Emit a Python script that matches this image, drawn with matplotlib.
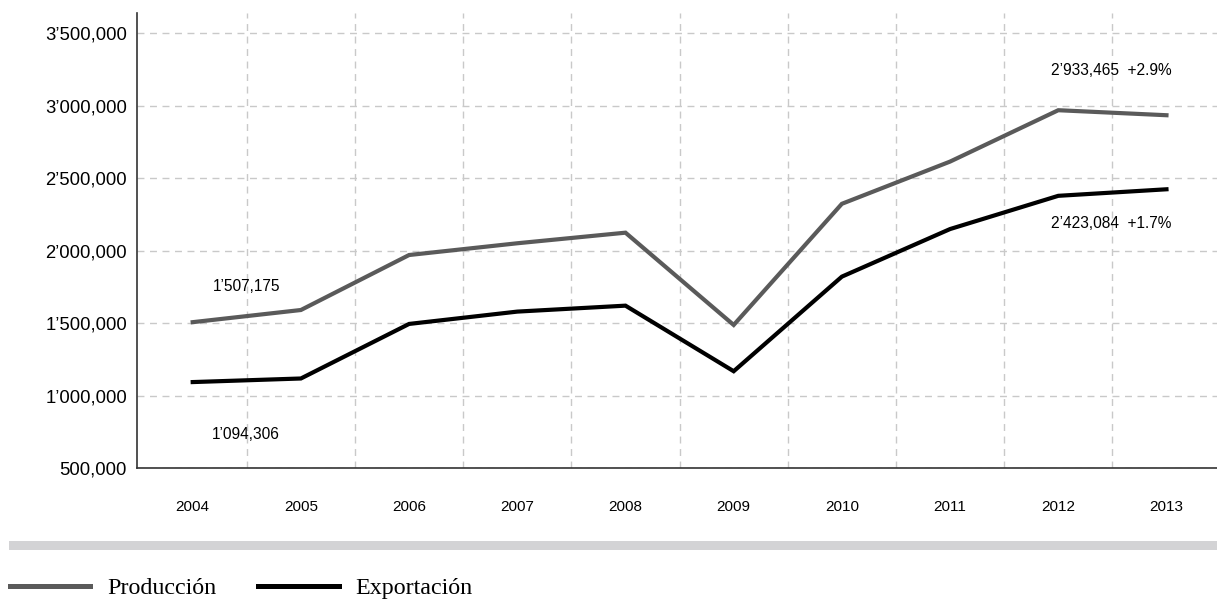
import matplotlib
matplotlib.use("Agg")
import matplotlib.pyplot as plt
from matplotlib.patches import Rectangle
from matplotlib.ticker import FuncFormatter, FixedLocator


years = ["2004", "2005", "2006", "2007", "2008", "2009", "2010", "2011", "2012", "2013"]
produccion = [1507175, 1591000, 1970000, 2051000, 2124000, 1488000, 2323000, 2614000, 2968000, 2933465]
exportacion = [1094306, 1119000, 1495000, 1580000, 1621000, 1169000, 1821000, 2149000, 2378000, 2423084]
growth_prod = "+2.9%"
growth_exp = "+1.7%"

GRAY = "#5a5a5a"
GRID = "#c9c9c9"


def fmt(v, pos=None):
    s = f"{int(round(v)):,}"
    if v >= 1e6:
        s = s.replace(",", "\u2019", 1)
    return s


plt.rcParams["font.family"] = ["Liberation Sans", "DejaVu Sans"]

fig = plt.figure(figsize=(12.17, 6.01), dpi=100)
ax = fig.add_axes([137.3 / 1217, 1 - 468.3 / 601, 1 - 137.3 / 1217, (468.3 - 13.3) / 601])

x = list(range(len(years)))
l_prod, = ax.plot(x, produccion, color=GRAY, lw=3.0, solid_joinstyle="miter", zorder=3)
l_exp, = ax.plot(x, exportacion, color="black", lw=3.0, solid_joinstyle="miter", zorder=3)

ax.set_xlim(-0.512, 9.467)
ax.set_ylim(500000, 3636000)

ax.set_xticks(x)
ax.set_xticklabels(years, fontsize=11)
ax.xaxis.set_minor_locator(FixedLocator([i + 0.5 for i in range(9)]))
ax.set_yticks([500000, 1000000, 1500000, 2000000, 2500000, 3000000, 3500000])
ax.yaxis.set_major_formatter(FuncFormatter(fmt))
ax.tick_params(axis="y", length=0, pad=7.5, labelsize=13.3)
ax.tick_params(axis="x", which="both", length=0, pad=23)

ax.grid(axis="y", which="major", color=GRID, lw=1, ls=(0, (5, 4)))
ax.grid(axis="x", which="minor", color=GRID, lw=1, ls=(0, (5, 4)))
ax.set_axisbelow(True)

for side in ["top", "right"]:
    ax.spines[side].set_visible(False)
for side in ["left", "bottom"]:
    ax.spines[side].set_color("#333333")
    ax.spines[side].set_linewidth(1.2)

# start / end value labels
ax.annotate(fmt(produccion[0]), xy=(0, produccion[0]), xytext=(38.5, 25.5),
            textcoords="offset points", ha="center", va="center", fontsize=11.2)
ax.annotate(fmt(exportacion[0]), xy=(0, exportacion[0]), xytext=(38.5, -37.5),
            textcoords="offset points", ha="center", va="center", fontsize=11.2)
ax.annotate(f"{fmt(produccion[-1])}  {growth_prod}", xy=(9, produccion[-1]), xytext=(-40, 32),
            textcoords="offset points", ha="center", va="center", fontsize=11.2)
ax.annotate(f"{fmt(exportacion[-1])}  {growth_exp}", xy=(9, exportacion[-1]), xytext=(-40, -24.8),
            textcoords="offset points", ha="center", va="center", fontsize=11.2)

# separator band above the legend
fig.add_artist(Rectangle((9 / 1217, 1 - 550 / 601), 1, 9 / 601,
                         transform=fig.transFigure, color="#d3d3d5", lw=0))

leg = fig.legend([l_prod, l_exp], ["Producción", "Exportación"], ncol=2, frameon=False,
                 loc="center left", bbox_to_anchor=(10 / 1217, 1 - 588 / 601),
                 prop={"family": "Liberation Serif", "size": 17.3},
                 handlelength=3.35, handletextpad=0.68, columnspacing=1.75, borderaxespad=0,
                 borderpad=0)
for h in leg.legend_handles:
    h.set_linewidth(3.6)

fig.savefig("out.png", dpi=100)
